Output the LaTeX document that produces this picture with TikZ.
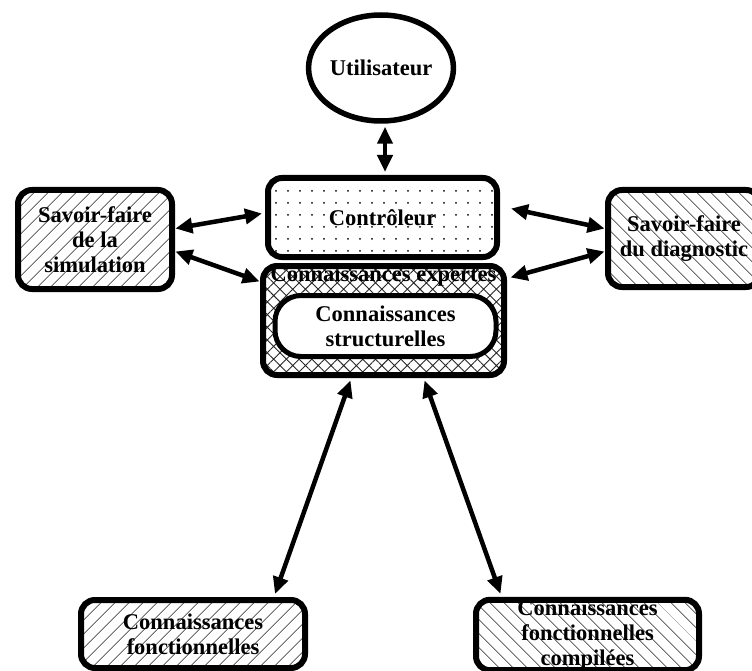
\documentclass[tikz,border=0pt]{standalone}
\usepackage{fontspec}
\setmainfont{Liberation Serif}
\usetikzlibrary{arrows.meta,patterns.meta,calc,shapes.geometric}
\definecolor{hatchc}{HTML}{262626}
\tikzset{
  txt/.style={font=\bfseries\fontsize{22.5}{25}\selectfont,align=center},
  box/.style={draw,line width=6pt,rounded corners=14pt,txt,inner sep=0pt},
  ar/.style={{Triangle[length=17pt,width=15pt]}-{Triangle[length=17pt,width=15pt]},line width=4.5pt},
  hne/.style={pattern={Lines[angle=45,distance=10.5pt,line width=0.8pt]},pattern color=hatchc},
  hnw/.style={pattern={Lines[angle=-45,distance=10.5pt,line width=0.8pt]},pattern color=hatchc},
  xhatch/.style={pattern={Hatch[angle=45,distance=9pt,line width=0.9pt]},pattern color=hatchc},
  dotsfill/.style={pattern={Dots[distance=12pt,radius=1pt]},pattern color=black}
}
\begin{document}
\begin{tikzpicture}[x=1pt,y=-1pt]
\useasboundingbox (0,0) rectangle (752,671);
% noeuds
\node[draw,ellipse,line width=5.5pt,txt,minimum width=134pt,minimum height=106pt,inner sep=0pt] (user) at (381,68) {Utilisateur};
\node[box,dotsfill,minimum width=229pt,minimum height=79pt] (ctrl) at (382.5,217.5) {Contr\^oleur};
\node[box,xhatch,minimum width=241pt,minimum height=109pt] (exp) at (383.5,320.5) {};
\node[txt] (exptitle) at (383.5,276) {Connaissances expertes};
\node[box,fill=white,line width=5pt,rounded corners=26pt,minimum width=221pt,minimum height=61pt] (struct) at (385.5,326) {Connaissances\\structurelles};
\node[box,hne,minimum width=154pt,minimum height=99pt] (sim) at (95,239.5) {Savoir-faire\\de la\\simulation};
\node[box,hnw,minimum width=152pt,minimum height=97pt] (diag) at (684,238.5) {Savoir-faire\\du diagnostic};
\node[box,hne,minimum width=224pt,minimum height=68pt] (fonc) at (193,634) {Connaissances\\fonctionnelles};
\node[box,hnw,minimum width=223pt,minimum height=70pt] (comp) at (587.5,635) {Connaissances\\fonctionnelles\\compil\'ees};
% liens
\draw[ar] ([xshift=4pt,yshift=-3pt]user.south) -- ([xshift=2.5pt,yshift=3pt]ctrl.north);
\draw[ar] ([xshift=3pt,yshift=11pt]sim.east) -- ([xshift=-3pt,yshift=4pt]ctrl.west);
\draw[ar] ([xshift=3pt,yshift=-12pt]sim.east) -- ([xshift=-3pt,yshift=39pt]exp.west);
\draw[ar] ([xshift=11pt,yshift=9pt]ctrl.east) -- ([xshift=-3pt,yshift=10pt]diag.west);
\draw[ar] ([xshift=6pt,yshift=43pt]exp.east) -- ([xshift=-3pt,yshift=-13pt]diag.west);
\draw[ar] ([xshift=-33pt,yshift=-5pt]exp.south) -- ([xshift=82pt,yshift=3pt]fonc.north);
\draw[ar] ([xshift=41pt,yshift=-5pt]exp.south) -- ([xshift=-87pt,yshift=3pt]comp.north);
\end{tikzpicture}
\end{document}
